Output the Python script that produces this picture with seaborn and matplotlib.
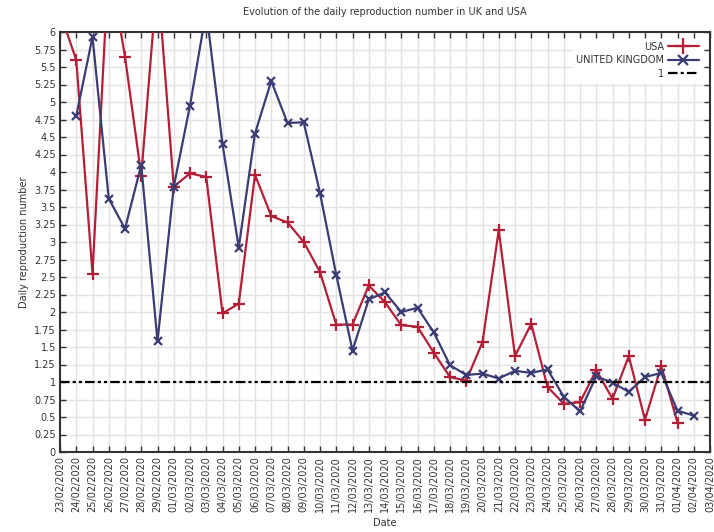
import numpy as np
import pandas as pd
import matplotlib
matplotlib.use("Agg")
import matplotlib.pyplot as plt
from matplotlib.lines import Line2D
import seaborn as sns

dates = ["23/02/2020", "24/02/2020", "25/02/2020", "26/02/2020", "27/02/2020", "28/02/2020",
         "29/02/2020", "01/03/2020", "02/03/2020", "03/03/2020", "04/03/2020", "05/03/2020",
         "06/03/2020", "07/03/2020", "08/03/2020", "09/03/2020", "10/03/2020", "11/03/2020",
         "12/03/2020", "13/03/2020", "14/03/2020", "15/03/2020", "16/03/2020", "17/03/2020",
         "18/03/2020", "19/03/2020", "20/03/2020", "21/03/2020", "22/03/2020", "23/03/2020",
         "24/03/2020", "25/03/2020", "26/03/2020", "27/03/2020", "28/03/2020", "29/03/2020",
         "30/03/2020", "31/03/2020", "01/04/2020", "02/04/2020", "03/04/2020"]

usa = [6.28, 5.60, 2.55, 7.00, 5.65, 3.95, 6.80, 3.79, 3.98, 3.93, 1.98, 2.12,
       3.96, 3.37, 3.28, 3.00, 2.57, 1.82, 1.82, 2.38, 2.14, 1.81, 1.79, 1.42,
       1.07, 1.02, 1.57, 3.17, 1.37, 1.83, 0.93, 0.69, 0.71, 1.17, 0.76, 1.37,
       0.46, 1.23, 0.42, np.nan, np.nan]

uk = [np.nan, 4.80, 5.93, 3.62, 3.19, 4.10, 1.58, 3.79, 4.95, 6.30, 4.40, 2.92,
      4.55, 5.30, 4.70, 4.71, 3.70, 2.53, 1.45, 2.18, 2.28, 2.00, 2.06, 1.71,
      1.24, 1.10, 1.12, 1.05, 1.16, 1.13, 1.18, 0.79, 0.58, 1.08, 0.99, 0.86,
      1.07, 1.13, 0.59, 0.52, np.nan]

threshold = 1

series_names = ["USA", "UNITED KINGDOM", "1"]

RED = "#b41f38"
BLUE = "#3b3c74"
DASH = (0, (4.3, 1.4, 1.4, 1.4, 1.4, 1.4))

sns.set_style("white")
plt.rcParams["font.family"] = ["DejaVu Sans"]

df = pd.DataFrame({"day": np.arange(len(dates)), "USA": usa, "UK": uk})

fig = plt.figure(figsize=(7.14, 5.32), dpi=100)
ax = fig.add_axes([60 / 714, 1 - 452 / 532, 650 / 714, 420 / 532])

sns.lineplot(data=df, x="day", y="USA", ax=ax, color=RED, lw=1.6, marker="+",
             markersize=9, markeredgewidth=1.6, markeredgecolor=RED,
             legend=False, zorder=3)
sns.lineplot(data=df, x="day", y="UK", ax=ax, color=BLUE, lw=1.6, marker="x",
             markersize=6, markeredgewidth=1.6, markeredgecolor=BLUE,
             legend=False, zorder=4)
ax.axhline(threshold, color="black", lw=1.6, ls=DASH, dash_capstyle="butt", zorder=5)

ax.set_xlim(0, len(dates) - 1)
ax.set_ylim(0, 6)
ax.set_xticks(np.arange(len(dates)))
ax.set_xticklabels(dates, rotation=90, fontsize=7, color="#333333")
yt = np.arange(0, 6.01, 0.25)
ax.set_yticks(yt)
ax.set_yticklabels([f"{v:g}" for v in yt], fontsize=7, color="#333333")

ax.grid(True, color="#e3e3e3", lw=1)
ax.set_axisbelow(True)
ax.tick_params(direction="in", length=4, width=1, top=True, right=True,
               bottom=True, left=True, color="#333333", pad=3)
for s in ax.spines.values():
    s.set_color("#333333")
    s.set_linewidth(1.5)

ax.set_xlabel("Date", fontsize=7, color="#333333")
ax.set_ylabel("Daily reproduction number", fontsize=7, color="#333333")
ax.set_title("Evolution of the daily reproduction number in UK and USA",
             fontsize=7, color="#333333", pad=12)

handles = [
    Line2D([], [], color=RED, lw=1.6, marker="+", markersize=11, markeredgewidth=1.6),
    Line2D([], [], color=BLUE, lw=1.6, marker="x", markersize=7, markeredgewidth=1.6),
    Line2D([], [], color="black", lw=1.6, ls=(0, (4.3, 1.4, 1.4, 1.4)),
           dash_capstyle="butt"),
]
leg = ax.legend(handles, series_names, loc="upper right", markerfirst=False,
                fontsize=7, frameon=True, framealpha=1, facecolor="white",
                edgecolor="white", fancybox=False, handlelength=3.2,
                borderpad=0.3, labelspacing=0.35, handletextpad=0.4,
                bbox_to_anchor=(0.995, 0.995))
for t in leg.get_texts():
    t.set_color("#333333")
leg.set_zorder(10)

fig.savefig("out.png", dpi=100)
